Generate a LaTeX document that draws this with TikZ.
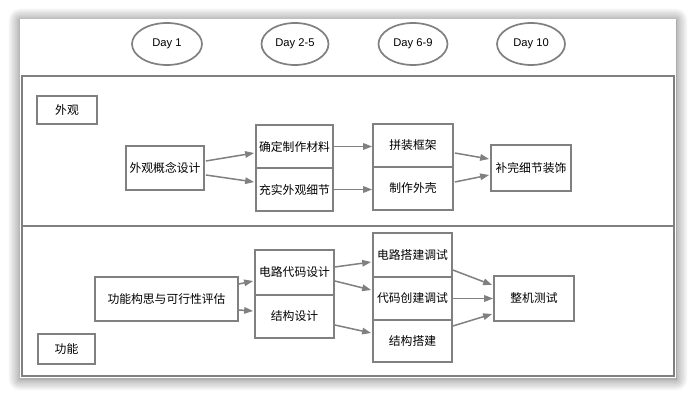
\documentclass[tikz,border=0pt]{standalone}
\usepackage{fontspec}
\setmainfont{Liberation Sans}
\newfontfamily\cjk{Noto Sans CJK SC}
\usetikzlibrary{arrows.meta,calc,shadows.blur,shapes.geometric}

\definecolor{linegray}{HTML}{808080}

\tikzset{
  card/.style={fill=white, draw=none,
    blur shadow={shadow xshift=0pt, shadow yshift=-1pt,
                 shadow blur radius=12pt, shadow blur steps=12,
                 shadow opacity=60}},
  lane/.style={draw=linegray, line width=1.7pt},
  daylabel/.style={ellipse, draw=linegray, line width=1.7pt,
    inner sep=0pt, font=\fontsize{11.2}{13}\selectfont},
  stepbox/.style={rectangle, draw=linegray, line width=1.7pt,
    inner sep=0pt, font=\cjk\fontsize{11.8}{14}\selectfont},
  flow/.style={draw=linegray, line width=1.5pt,
    -{Triangle[length=9pt,width=6.5pt]}}
}

\begin{document}
\begin{tikzpicture}[x=1pt,y=-1pt]
  \useasboundingbox (0,0) rectangle (696,398);

  % white card with soft shadow
  \path[card] (20,19) rectangle (676,378);

  % swimlanes
  \draw[lane] (22,76) rectangle (674,226);
  \draw[lane] (22,226) rectangle (674,376);

  % timeline
  \node[daylabel, minimum width=70pt, minimum height=42pt] (d1)  at (167,44) {Day 1};
  \node[daylabel, minimum width=67pt, minimum height=42pt] (d2)  at (295,44) {Day 2-5};
  \node[daylabel, minimum width=69pt, minimum height=42pt] (d6)  at (413,44) {Day 6-9};
  \node[daylabel, minimum width=68pt, minimum height=42pt] (d10) at (531,44) {Day 10};

  % appearance lane
  \node[stepbox, minimum width=60pt, minimum height=28pt] (look)     at (67,110)    {外观};
  \node[stepbox, minimum width=78pt, minimum height=44pt] (concept)  at (165,168)   {外观概念设计};
  \node[stepbox, minimum width=77pt, minimum height=43pt] (material) at (294.5,146.5) {确定制作材料};
  \node[stepbox, minimum width=77pt, minimum height=43pt] (detail)   at (294.5,189.5) {充实外观细节};
  \node[stepbox, minimum width=80pt, minimum height=43pt] (frame)    at (413,145.5) {拼装框架};
  \node[stepbox, minimum width=80pt, minimum height=43pt] (shell)    at (413,188.5) {制作外壳};
  \node[stepbox, minimum width=80pt, minimum height=46pt] (deco)     at (531,168)   {补完细节装饰};

  % function lane
  \node[stepbox, minimum width=57pt,  minimum height=30pt] (func)    at (66.5,349)   {功能};
  \node[stepbox, minimum width=143pt, minimum height=44pt] (idea)    at (166.5,299)  {功能构思与可行性评估};
  \node[stepbox, minimum width=79pt,  minimum height=45pt] (circuit) at (294.5,272.5) {电路代码设计};
  \node[stepbox, minimum width=79pt,  minimum height=43pt] (struct)  at (294.5,316.5) {结构设计};
  \node[stepbox, minimum width=79pt,  minimum height=44pt] (cbuild)  at (412.5,255)  {电路搭建调试};
  \node[stepbox, minimum width=79pt,  minimum height=43pt] (code)    at (412.5,298.5) {代码创建调试};
  \node[stepbox, minimum width=79pt,  minimum height=42pt] (sbuild)  at (412.5,341)  {结构搭建};
  \node[stepbox, minimum width=80pt,  minimum height=45pt] (test)    at (534,298.5)  {整机测试};

  % appearance flow
  \draw[flow] ($(concept.east)+(1,-7)$) -- ($(material.west)+(-1,6.5)$);
  \draw[flow] ($(concept.east)+(1,7)$)  -- ($(detail.west)+(-1,-7.5)$);
  \draw[flow] (material.east) -- (material.east -| frame.west);
  \draw[flow] (detail.east)   -- (detail.east -| shell.west);
  \draw[flow] ($(frame.east)+(1,7.5)$)  -- ($(deco.west)+(-1,-9)$);
  \draw[flow] ($(shell.east)+(1,-6.5)$) -- ($(deco.west)+(-1,7)$);

  % function flow
  \draw[flow] ($(idea.east)+(0,-15)$)     -- ($(circuit.west)+(-1,8.5)$);
  \draw[flow] ($(idea.east)+(0,11)$)      -- ($(struct.west)+(-1,-5.5)$);
  \draw[flow] ($(circuit.east)+(0,-5.5)$) -- ($(cbuild.west)+(-1,7)$);
  \draw[flow] ($(circuit.east)+(0,8.5)$)  -- ($(code.west)+(-1,-8.5)$);
  \draw[flow] ($(struct.east)+(0,8.5)$)   -- ($(sbuild.west)+(-1,-8)$);
  \draw[flow] ($(cbuild.east)+(0,15)$)    -- ($(test.west)+(-1,-13.5)$);
  \draw[flow] (code.east) -- (code.east -| test.west);
  \draw[flow] ($(sbuild.east)+(0,-15)$)   -- ($(test.west)+(-1,15.5)$);
\end{tikzpicture}
\end{document}
